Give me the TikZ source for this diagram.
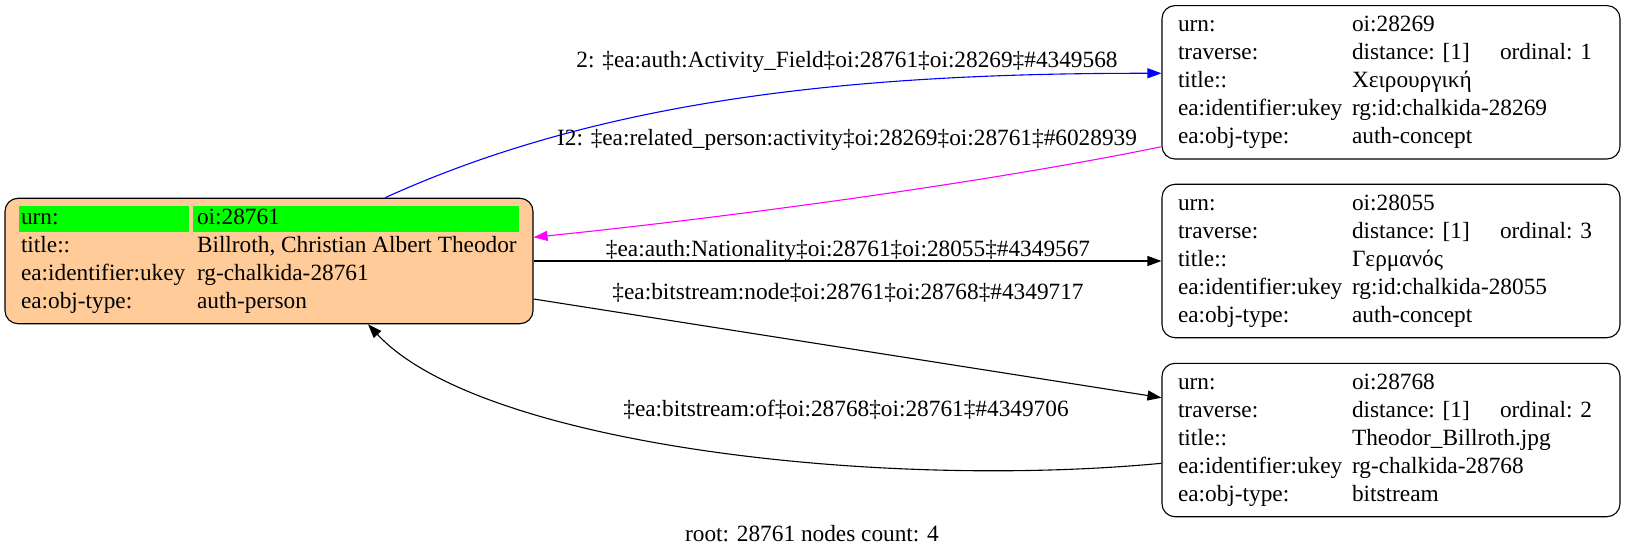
\documentclass[tikz,border=0pt]{standalone}
\usepackage{fontspec}
\setmainfont{Liberation Serif}
\usetikzlibrary{arrows.meta,calc}
\definecolor{peach}{RGB}{255,204,153}
\definecolor{hlgreen}{RGB}{0,255,0}
\definecolor{gvmagenta}{RGB}{255,0,255}
\definecolor{gvblue}{RGB}{0,0,255}
\newcommand{\greencell}[3]{\leavevmode\rlap{\hspace*{-#1}\textcolor{hlgreen}{\rule[-7.5pt]{#2}{26pt}}}#3}
\tikzset{
  rec/.style={draw, rounded corners=13pt, line width=1.1pt, inner xsep=16pt, inner ysep=6.7pt, font=\fontsize{23.3}{28}\selectfont},
  lbl/.style={anchor=base, inner sep=0pt, font=\fontsize{23.3}{28}\selectfont},
  gv/.style={line width=1.1pt, -{Triangle[length=14pt,width=10pt]}}
}
\begin{document}
\begin{tikzpicture}[x=1pt, y=-1pt]
\useasboundingbox (0,0) rectangle (1627,553);

\node[rec, fill=peach] (v1) at (269,261) {\begin{tabular}{@{}l@{}l@{}}
\makebox[176pt][l]{\greencell{2pt}{170pt}{urn:}} & \makebox[320pt][l]{\greencell{4pt}{326pt}{oi:28761}}\\
title:: & Billroth, Christian Albert Theodor\\
ea:identifier:ukey & rg-chalkida-28761\\
ea:obj-type: & auth-person
\end{tabular}};

\node[rec] (v2) at (1391,82.3) {\begin{tabular}{@{}l@{}l@{}}
\makebox[174pt][l]{urn:} & \makebox[252pt][l]{oi:28269}\\
traverse: & \makebox[148pt][l]{distance: [1]}ordinal: 1\\
title:: & Χειρουργική\\
ea:identifier:ukey & rg:id:chalkida-28269\\
ea:obj-type: & auth-concept
\end{tabular}};

\node[rec] (v3) at (1391,261) {\begin{tabular}{@{}l@{}l@{}}
\makebox[174pt][l]{urn:} & \makebox[252pt][l]{oi:28055}\\
traverse: & \makebox[148pt][l]{distance: [1]}ordinal: 3\\
title:: & Γερμανός\\
ea:identifier:ukey & rg:id:chalkida-28055\\
ea:obj-type: & auth-concept
\end{tabular}};

\node[rec] (v4) at (1391,440) {\begin{tabular}{@{}l@{}l@{}}
\makebox[174pt][l]{urn:} & \makebox[252pt][l]{oi:28768}\\
traverse: & \makebox[148pt][l]{distance: [1]}ordinal: 2\\
title:: & Theodor\_Billroth.jpg\\
ea:identifier:ukey & rg-chalkida-28768\\
ea:obj-type: & bitstream
\end{tabular}};

\draw[gv, gvblue] ($(v1.north)+(116,0)$) .. controls (600,100) and (850,73) .. ($(v2.west)+(0,-9)$);
\draw[gv, gvmagenta] ($(v2.west)+(0,64.4)$) .. controls (1000,180) and (750,215) .. ($(v1.east)+(0,-23.7)$);
\draw[gv] (v1.east) -- (v3.west);
\draw[gv] ($(v1.east)+(0,38)$) -- ($(v4.west)+(0,-42.3)$);
\draw[gv] ($(v4.west)+(0,23.3)$) .. controls (880,490) and (480,445) .. ($(v1.south)+(99,0)$);

\node[lbl] (l1) at (847,68) {2: ‡ea:auth:Activity\_Field‡oi:28761‡oi:28269‡\#4349568};
\node[lbl] (l2) at (847,145.5) {I2: ‡ea:related\_person:activity‡oi:28269‡oi:28761‡\#6028939};
\node[lbl] (l3) at (848,257) {‡ea:auth:Nationality‡oi:28761‡oi:28055‡\#4349567};
\node[lbl] (l4) at (848,299) {‡ea:bitstream:node‡oi:28761‡oi:28768‡\#4349717};
\node[lbl] (l5) at (846,416) {‡ea:bitstream:of‡oi:28768‡oi:28761‡\#4349706};
\node[lbl] (cap) at (812,541) {root: 28761 nodes count: 4};

\end{tikzpicture}
\end{document}
